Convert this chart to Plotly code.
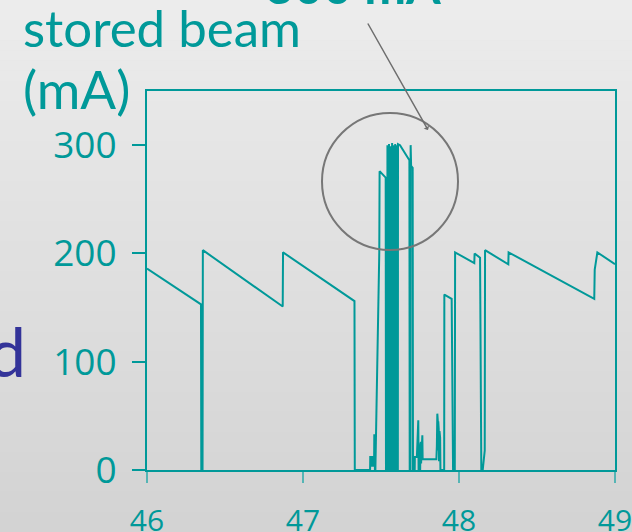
import plotly.graph_objects as go

# ---------------- data ----------------
time_h = [
    46.000, 46.346, 46.348, 46.356, 46.358, 46.870, 46.872, 47.330, 47.332,
    47.430, 47.431, 47.440, 47.441, 47.450, 47.451, 47.456, 47.457, 47.460, 47.461, 47.464,
    47.489, 47.491, 47.530, 47.532,
    47.541, 47.5412, 47.5415,
    47.551, 47.5512, 47.5515,
    47.561, 47.5612, 47.5615,
    47.571, 47.5712, 47.5715,
    47.581, 47.5812, 47.5815,
    47.591, 47.5912, 47.5915,
    47.600, 47.6002, 47.6005,
    47.608, 47.609, 47.622, 47.682, 47.684, 47.689, 47.690, 47.693, 47.703, 47.705,
    47.716, 47.717, 47.730, 47.739, 47.741, 47.751, 47.753, 47.756, 47.757, 47.761,
    47.765, 47.767, 47.855, 47.858, 47.861, 47.864, 47.865, 47.867, 47.870, 47.872,
    47.875, 47.879, 47.881, 47.905, 47.906, 47.953, 47.962, 47.973, 47.975,
    48.098, 48.100, 48.135, 48.143, 48.152, 48.165, 48.167, 48.316, 48.318,
    48.867, 48.870, 48.887, 49.000,
]
beam_mA = [
    186, 153, 0, 0, 203, 151, 201, 156, 0,
    0, 12, 12, 4, 4, 12, 12, 32, 32, 0, 0,
    201, 276, 270, 0,
    0, 300, 0,
    0, 301, 0,
    0, 299, 0,
    0, 302, 0,
    0, 300, 0,
    0, 301, 0,
    0, 300, 0,
    0, 301, 300, 286, 0, 0, 300, 281, 279, 0,
    0, 12, 12, 46, 0, 0, 24, 26, 6, 30,
    32, 10, 10, 22, 52, 46, 18, 45, 38, 8,
    36, 30, 0, 0, 162, 158, 0, 0, 201,
    191, 200, 196, 0, 0, 18, 203, 190, 201,
    158, 185, 201, 190,
]
x_ticks = [46, 47, 48, 49]
y_ticks = [0, 100, 200, 300]

TEAL = "#009999"
W, H = 632, 532
L, R, T, B = 147, 17, 91, 62
PW, PH = W - L - R, H - T - B


def px(x):
    return (x - L) / PW


def py(y):
    return (H - B - y) / PH


fig = go.Figure()
fig.add_trace(go.Scatter(
    x=time_h, y=beam_mA, mode="lines",
    line=dict(color=TEAL, width=2),
    hoverinfo="skip", showlegend=False,
))

# background gradient (light grey at top to darker grey at bottom)
shapes = []
n = 53
top_c, bot_c = (236, 236, 236), (211, 211, 211)
for i in range(n):
    f = i / (n - 1)
    c = tuple(round(top_c[k] + (bot_c[k] - top_c[k]) * f) for k in range(3))
    y0 = i * H / n
    y1 = (i + 1) * H / n + 0.6
    shapes.append(dict(
        type="rect", xref="paper", yref="paper",
        x0=px(-2), x1=px(W + 2), y0=py(y1), y1=py(y0),
        fillcolor="rgb(%d,%d,%d)" % c, line=dict(width=0), layer="below",
    ))

# grey circle around the peak
shapes.append(dict(
    type="circle", xref="paper", yref="paper",
    x0=px(322), x1=px(458), y0=py(250), y1=py(113),
    line=dict(color="#777777", width=2), fillcolor="rgba(0,0,0,0)", layer="above",
))

font_txt = "Lato"
annotations = [
    dict(text="stored beam", x=px(21), y=py(27), xref="paper", yref="paper",
         xanchor="left", yanchor="middle", showarrow=False,
         font=dict(family=font_txt, size=51, color=TEAL)),
    dict(text="(mA)", x=px(21), y=py(89), xref="paper", yref="paper",
         xanchor="left", yanchor="middle", showarrow=False,
         font=dict(family=font_txt, size=53, color=TEAL)),
    dict(text="<b>300 mA</b>", x=px(263), y=py(-15), xref="paper", yref="paper",
         xanchor="left", yanchor="middle", showarrow=False,
         font=dict(family=font_txt, size=50, color=TEAL)),
    dict(text="d", x=px(28), y=py(350), xref="paper", yref="paper",
         xanchor="right", yanchor="middle", showarrow=False,
         font=dict(family=font_txt, size=68, color="#333399")),
    dict(text="", x=px(428), y=py(130), xref="paper", yref="paper",
         showarrow=True, ax=-61, ay=-108, arrowhead=1, arrowsize=0.7,
         arrowwidth=1.5, arrowcolor="#6e6e6e"),
]

fig.update_layout(
    width=W, height=H,
    margin=dict(l=L, r=R, t=T, b=B, pad=0, autoexpand=False),
    paper_bgcolor="#e0e0e0", plot_bgcolor="rgba(0,0,0,0)",
    shapes=shapes, annotations=annotations, showlegend=False,
    xaxis=dict(
        range=[46, 49], tickvals=x_ticks, ticktext=[str(v) for v in x_ticks],
        showgrid=False, zeroline=False, showline=True, mirror=True,
        linecolor=TEAL, linewidth=2, ticks="outside", ticklen=11, tickwidth=1.5,
        tickcolor="#55b5b5", ticklabelstandoff=12, automargin=False,
        ticklabeloverflow="allow",
        tickfont=dict(family="Open Sans", size=30, color=TEAL),
    ),
    yaxis=dict(
        range=[0, 350], tickvals=y_ticks, ticktext=[str(v) for v in y_ticks],
        showgrid=False, zeroline=False, showline=True, mirror=True,
        linecolor=TEAL, linewidth=2, ticks="outside", ticklen=13, tickwidth=1.5,
        tickcolor=TEAL, ticklabelstandoff=8, automargin=False,
        ticklabeloverflow="allow",
        tickfont=dict(family="Open Sans", size=37, color=TEAL),
    ),
)

fig.write_html(
    "out.html",
    config={"displayModeBar": False},
    post_script="document.body.style.margin='0';document.body.style.overflow='hidden';",
)
